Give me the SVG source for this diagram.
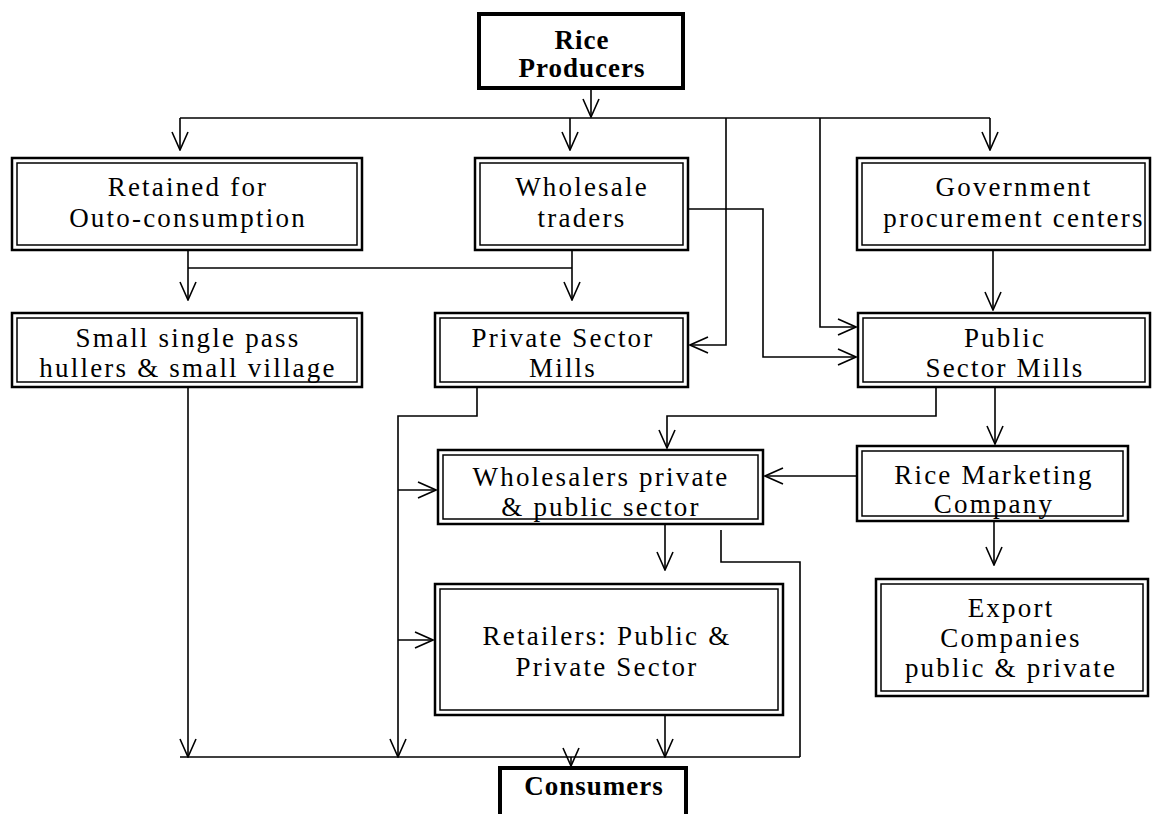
<svg xmlns="http://www.w3.org/2000/svg" width="1154" height="814" viewBox="0 0 1154 814">
<defs>
<marker id="arr" viewBox="0 0 20 20" refX="19" refY="10" markerWidth="20" markerHeight="20" markerUnits="userSpaceOnUse" orient="auto">
<path d="M1,2 L19,10 L1,18" fill="none" stroke="#000" stroke-width="1.6"/>
</marker>
</defs>
<style>
.bg{fill:#fff}
.o{fill:none;stroke:#000;stroke-width:2.5}
.i{fill:none;stroke:#000;stroke-width:1.5}
.thick{fill:none;stroke:#000;stroke-width:4}
.t{font-family:"Liberation Serif","Times New Roman",serif;font-size:27px;letter-spacing:2.2px;text-anchor:middle;fill:#000}
.b{font-family:"Liberation Serif","Times New Roman",serif;font-size:27px;font-weight:bold;letter-spacing:1px;text-anchor:middle;fill:#000}
.c path{fill:none;stroke:#000;stroke-width:1.6}
.a{marker-end:url(#arr)}
</style>
<rect class="bg" x="0" y="0" width="1154" height="814"/>

<g id="connectors" class="c">
<path class="a" d="M591,88 V117"/>
<path d="M180,118 H990"/>
<path class="a" d="M180,118 V150"/>
<path class="a" d="M570,118 V150"/>
<path class="a" d="M990,118 V150"/>
<path class="a" d="M726,118 V345 H690"/>
<path class="a" d="M820,118 V327 H856"/>
<path class="a" d="M688,209 H763 V357 H856"/>
<path class="a" d="M188,250 V300"/>
<path d="M188,268 H572"/>
<path class="a" d="M572,250 V300"/>
<path class="a" d="M993,250 V310"/>
<path class="a" d="M188,387 V757"/>
<path class="a" d="M477,387 V416 H398 V757"/>
<path class="a" d="M398,490 H436"/>
<path class="a" d="M398,640 H433"/>
<path class="a" d="M936,387 V416 H667 V448"/>
<path class="a" d="M995,387 V444"/>
<path class="a" d="M857,476 H765"/>
<path class="a" d="M994,521 V565"/>
<path class="a" d="M665,525 V570"/>
<path d="M721,530 V562 H800 V757"/>
<path class="a" d="M665,715 V757"/>
<path d="M180,757 H800"/>
<path class="a" d="M571,757 V766"/>
</g>

<g id="rice-producers">
<rect class="thick" x="479" y="14" width="204" height="74"/>
<text class="b" x="582" y="49">Rice</text>
<text class="b" x="582" y="77">Producers</text>
</g>

<g id="retained">
<rect class="o" x="12" y="158" width="350" height="92"/>
<rect class="i" x="17" y="163" width="340" height="82"/>
<text class="t" x="188" y="196">Retained for</text>
<text class="t" x="188" y="227">Outo-consumption</text>
</g>

<g id="wholesale-traders">
<rect class="o" x="475" y="158" width="213" height="92"/>
<rect class="i" x="480" y="163" width="203" height="82"/>
<text class="t" x="582" y="196">Wholesale</text>
<text class="t" x="582" y="227">traders</text>
</g>

<g id="government">
<rect class="o" x="857" y="158" width="293" height="92"/>
<rect class="i" x="862" y="163" width="283" height="82"/>
<text class="t" x="1014" y="196">Government</text>
<text class="t" x="1014" y="227">procurement centers</text>
</g>

<g id="small-hullers">
<rect class="o" x="12" y="313" width="350" height="74"/>
<rect class="i" x="17" y="318" width="340" height="64"/>
<text class="t" x="188" y="347">Small single pass</text>
<text class="t" x="188" y="377">hullers &amp; small village</text>
</g>

<g id="private-mills">
<rect class="o" x="435" y="313" width="253" height="74"/>
<rect class="i" x="440" y="318" width="243" height="64"/>
<text class="t" x="563" y="347">Private Sector</text>
<text class="t" x="563" y="377">Mills</text>
</g>

<g id="public-mills">
<rect class="o" x="858" y="313" width="292" height="74"/>
<rect class="i" x="863" y="318" width="282" height="64"/>
<text class="t" x="1005" y="347">Public</text>
<text class="t" x="1005" y="377">Sector Mills</text>
</g>

<g id="wholesalers">
<rect class="o" x="438" y="450" width="325" height="74"/>
<rect class="i" x="443" y="455" width="315" height="64"/>
<text class="t" x="601" y="486">Wholesalers private</text>
<text class="t" x="601" y="516">&amp; public sector</text>
</g>

<g id="rice-marketing">
<rect class="o" x="857" y="446" width="271" height="75"/>
<rect class="i" x="862" y="451" width="261" height="65"/>
<text class="t" x="994" y="484">Rice Marketing</text>
<text class="t" x="994" y="513">Company</text>
</g>

<g id="retailers">
<rect class="o" x="435" y="584" width="348" height="131"/>
<rect class="i" x="440" y="589" width="338" height="121"/>
<text class="t" x="607" y="645">Retailers: Public &amp;</text>
<text class="t" x="607" y="676">Private Sector</text>
</g>

<g id="export">
<rect class="o" x="876" y="579" width="272" height="117"/>
<rect class="i" x="881" y="584" width="262" height="107"/>
<text class="t" x="1011" y="617">Export</text>
<text class="t" x="1011" y="647">Companies</text>
<text class="t" x="1011" y="677">public &amp; private</text>
</g>

<g id="consumers">
<rect class="thick" x="500" y="768" width="186" height="60"/>
<text class="b" x="594" y="795">Consumers</text>
</g>
</svg>
